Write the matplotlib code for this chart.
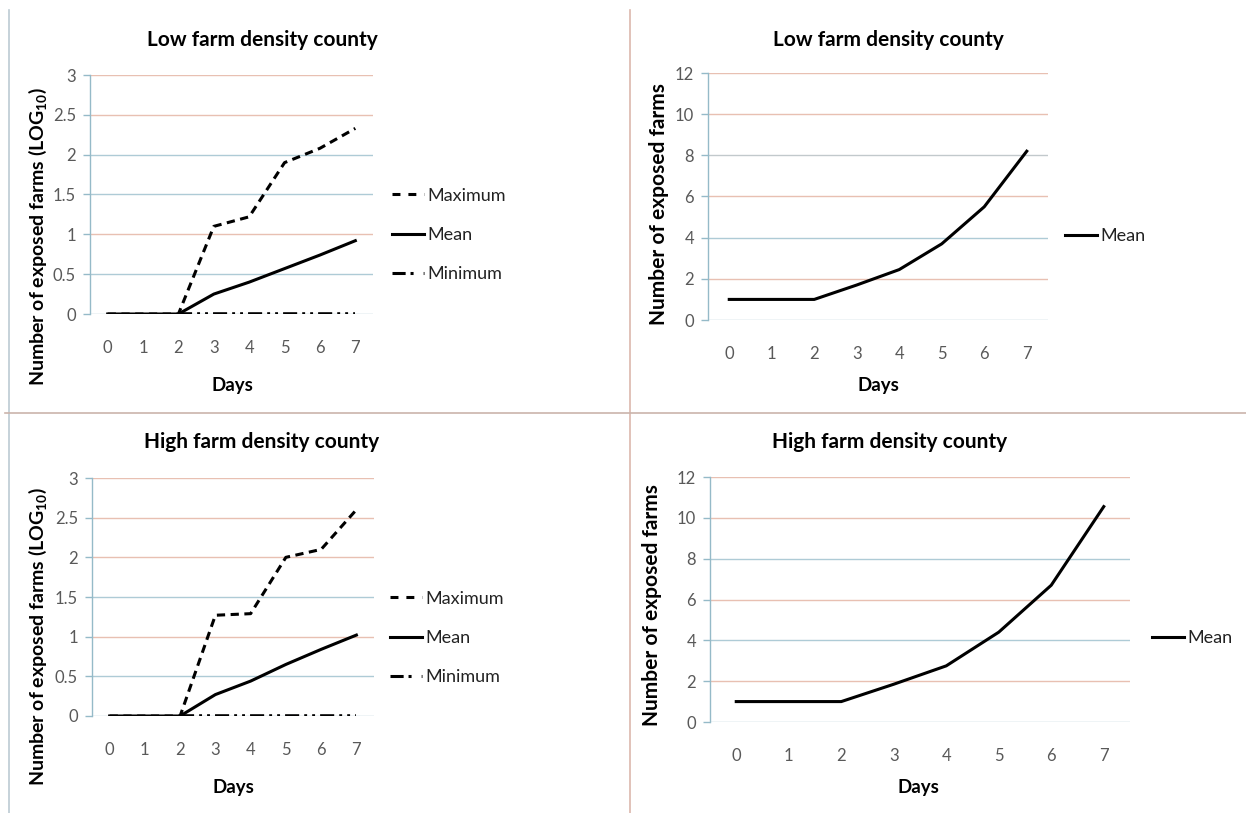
import matplotlib
matplotlib.use("Agg")
import matplotlib.pyplot as plt
from matplotlib.lines import Line2D

plt.rcParams["font.family"] = ["Lato", "DejaVu Sans"]
plt.rcParams["mathtext.fontset"] = "custom"
plt.rcParams["mathtext.rm"] = "Lato"
plt.rcParams["mathtext.bf"] = "Lato:bold"

# ── data ──────────────────────────────────────────────────────────────────────
days = [0, 1, 2, 3, 4, 5, 6, 7]

low_max  = [0, 0, 0, 1.10, 1.22, 1.90, 2.08, 2.33]
low_mean = [0, 0, 0, 0.25, 0.40, 0.57, 0.74, 0.92]
low_min  = [0, 0, 0, 0, 0, 0, 0, 0]
low_mean_abs = [1, 1, 1, 1.70, 2.45, 3.70, 5.50, 8.20]

high_max  = [0, 0, 0, 1.27, 1.29, 2.00, 2.10, 2.60]
high_mean = [0, 0, 0, 0.27, 0.44, 0.65, 0.84, 1.02]
high_min  = [0, 0, 0, 0, 0, 0, 0, 0]
high_mean_abs = [1, 1, 1, 1.85, 2.75, 4.40, 6.70, 10.55]

log_ticks = [0, 0.5, 1, 1.5, 2, 2.5, 3]
log_ticklabels = ["0", "0.5", "1", "1.5", "2", "2.5", "3"]
abs_ticks = [0, 2, 4, 6, 8, 10, 12]

TITLE_LOW  = "Low farm density county"
TITLE_HIGH = "High farm density county"
YLAB_LOG = r"Number of exposed farms (LOG$_\mathbf{10}$)"
YLAB_ABS = "Number of exposed farms"

BLUE   = "#aecbd6"
SALMON = "#e8c0b2"
AXIS_C = "#95bac8"
TICK_C = "#595959"

# gridline tints (bottom → top)
grid_tl = [BLUE, BLUE, SALMON, BLUE, BLUE, SALMON, SALMON]
grid_tr = [BLUE, SALMON, BLUE, SALMON, "#c2c9cc", SALMON, SALMON]
grid_bl = [BLUE, BLUE, SALMON, BLUE, SALMON, SALMON, SALMON]
grid_br = [BLUE, SALMON, BLUE, SALMON, BLUE, SALMON, SALMON]

W, H = 1246, 813
fig = plt.figure(figsize=(W / 100, H / 100), dpi=100)

def box(l, r, t, b):
    return [l / W, 1 - b / H, (r - l) / W, (b - t) / H]

def style(ax, yticks, yticklabels, ymax, grid_cols, title, title_xy,
          ylabel, ylab_size, ylab_xy, xlab_xy):
    ax.set_xlim(-0.5, 7.5)
    ax.set_ylim(0, ymax)
    for y, c in zip(yticks, grid_cols):
        ax.axhline(y, color=c, lw=1.0, zorder=0)
    for s in ["top", "right", "bottom"]:
        ax.spines[s].set_visible(False)
    ax.spines["left"].set_color(AXIS_C)
    ax.spines["left"].set_linewidth(1.0)
    ax.set_yticks(yticks)
    ax.set_yticklabels(yticklabels)
    ax.set_xticks(days)
    ax.tick_params(axis="y", length=5, color=AXIS_C, width=1.0,
                   labelsize=12, labelcolor=TICK_C, pad=5)
    ax.tick_params(axis="x", length=0, labelsize=12, labelcolor=TICK_C, pad=19)
    ax.set_xlabel("Days", fontsize=13.5, fontweight="bold")
    ax.xaxis.set_label_coords(xlab_xy[0] / W, 1 - xlab_xy[1] / H,
                              transform=fig.transFigure)
    ax.xaxis.label.set_va("center")
    ax.set_ylabel(ylabel, fontsize=ylab_size, fontweight="bold")
    ax.yaxis.set_label_coords(ylab_xy[0] / W, 1 - ylab_xy[1] / H,
                              transform=fig.transFigure)
    ax.yaxis.label.set_va("center")
    fig.text(title_xy[0] / W, 1 - title_xy[1] / H, title, fontsize=15,
             fontweight="bold", ha="center", va="center")

MIN_DASH = (3.9, 1.4, 0.8, 1.4, 0.8, 1.4)

def add_min(ax, vals):
    ax.plot(days[2:], vals[2:], color="black", lw=2.6,
            dashes=MIN_DASH, solid_capstyle="butt")

def legend(ax, handles, labels, x, y, spacing):
    ax.legend(handles, labels, loc="center left", bbox_to_anchor=(x / W, 1 - y / H),
              bbox_transform=fig.transFigure, frameon=False, fontsize=13,
              handlelength=1.75, handletextpad=0.2, labelspacing=spacing,
              labelcolor="#222222", borderaxespad=0, borderpad=0)

h_max = Line2D([], [], color="black", lw=2.2, dashes=(2.6, 2.6))
h_mean = Line2D([], [], color="black", lw=2.2)
h_min = Line2D([], [], color="black", lw=2.2, dashes=(4.3, 1.6, 1.0, 3.3))

# top-left: log scale, low density
ax = fig.add_axes(box(90, 373, 75, 314))
style(ax, log_ticks, log_ticklabels, 3, grid_tl, TITLE_LOW, (262, 40),
      YLAB_LOG, 14, (38, 237), (232, 385))
add_min(ax, low_min)
ax.plot(days, low_mean, color="black", lw=2.2)
ax.plot(days, low_max, color="black", lw=2.2, dashes=(2.7, 1.8))
legend(ax, [h_max, h_mean, h_min], ["Maximum", "Mean", "Minimum"], 392, 235, 1.3)

# top-right: absolute, low density
ax = fig.add_axes(box(708, 1048, 73, 320))
style(ax, abs_ticks, [str(t) for t in abs_ticks], 12, grid_tr, TITLE_LOW, (888, 40),
      YLAB_ABS, 15, (659, 204), (878, 385))
ax.plot(days, low_mean_abs, color="black", lw=2.2)
legend(ax, [h_mean], ["Mean"], 1065, 236, 1.3)

# bottom-left: log scale, high density
ax = fig.add_axes(box(92, 374, 478, 716))
style(ax, log_ticks, log_ticklabels, 3, grid_bl, TITLE_HIGH, (262, 442),
      YLAB_LOG, 14, (38, 637), (233, 787))
add_min(ax, high_min)
ax.plot(days, high_mean, color="black", lw=2.2)
ax.plot(days, high_max, color="black", lw=2.2, dashes=(2.7, 1.8))
legend(ax, [h_max, h_mean, h_min], ["Maximum", "Mean", "Minimum"], 390, 638, 1.3)

# bottom-right: absolute, high density
ax = fig.add_axes(box(710, 1130, 477, 722))
style(ax, abs_ticks, [str(t) for t in abs_ticks], 12, grid_br, TITLE_HIGH, (890, 442),
      YLAB_ABS, 15, (652, 605), (918, 787))
ax.plot(days, high_mean_abs, color="black", lw=2.2)
legend(ax, [h_mean], ["Mean"], 1152, 638, 1.3)

# panel frame
fig.add_artist(Line2D([9 / W, 9 / W], [0, 1 - 10 / H], color="#bccbd3", lw=1.2))
fig.add_artist(Line2D([630 / W, 630 / W], [0, 1 - 10 / H], color="#dbb8ad", lw=1.2))
fig.add_artist(Line2D([5 / W, 1], [1 - 413 / H, 1 - 413 / H], color="#cbb4ab", lw=1.2))

fig.savefig("out.png", dpi=100)
